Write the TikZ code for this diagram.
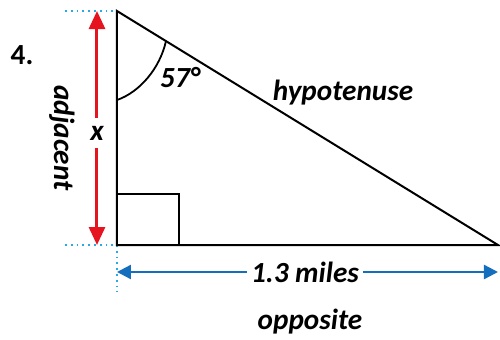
\documentclass[tikz,border=0pt]{standalone}
\usepackage{fontspec}
\setmainfont{Carlito}
\usetikzlibrary{arrows.meta}
\definecolor{arrowred}{RGB}{230,20,30}
\definecolor{arrowblue}{RGB}{20,110,190}
\definecolor{guidecyan}{RGB}{40,170,230}
\tikzset{
  lbl/.style={font=\fontsize{14.6}{16}\selectfont\bfseries\itshape, inner sep=0pt},
  redarr/.style={arrowred, line width=1.5pt, -{Triangle[length=9pt,width=8pt]}},
  bluearr/.style={arrowblue, line width=1.2pt, -{Triangle[length=7pt,width=7pt]}},
  guide/.style={guidecyan, line width=0.9pt, dotted}
}
\begin{document}
\begin{tikzpicture}[x=0.5pt,y=-0.5pt]
\useasboundingbox (0,0) rectangle (500,339);
\coordinate (A) at (117,11);
\coordinate (C) at (117,245);
\coordinate (B) at (498,245);
% guides
\draw[guide] (65,11) -- (A);
\draw[guide] (65,245) -- (C);
\draw[guide] (C) -- (117,292);
% triangle
\draw[line width=1pt] (A) -- (C) -- (B) -- cycle;
\draw[line width=0.9pt] (117,194) -- (179,194) -- (179,245);
\draw[line width=0.9pt] (117,100) .. controls (140,92) and (160,68) .. (166,41);
% labels
\node[font=\fontsize{14.6}{16}\selectfont\bfseries, inner sep=0pt] (num) at (22,55) {4.};
\node[lbl] (ang) at (180,78) {57°};
\node[lbl] (hyp) at (343,93) {hypotenuse};
\node[lbl, rotate=-90] (adj) at (62,138) {adjacent};
\node[lbl] (opp) at (310,322) {opposite};
% side lengths
\node[lbl, inner xsep=2pt, inner ysep=4pt] (xlab) at (97,133) {x};
\coordinate (xtop) at (97,11);
\coordinate (xbot) at (97,245);
\draw[redarr] (xlab) -- (xtop);
\draw[redarr] (xlab) -- (xbot);
\node[lbl, inner xsep=2pt] (len) at (305,272) {1.3 miles};
\coordinate (lleft) at (117,272);
\coordinate (lright) at (498,272);
\draw[bluearr] (len) -- (lleft);
\draw[bluearr] (len) -- (lright);
\end{tikzpicture}
\end{document}
